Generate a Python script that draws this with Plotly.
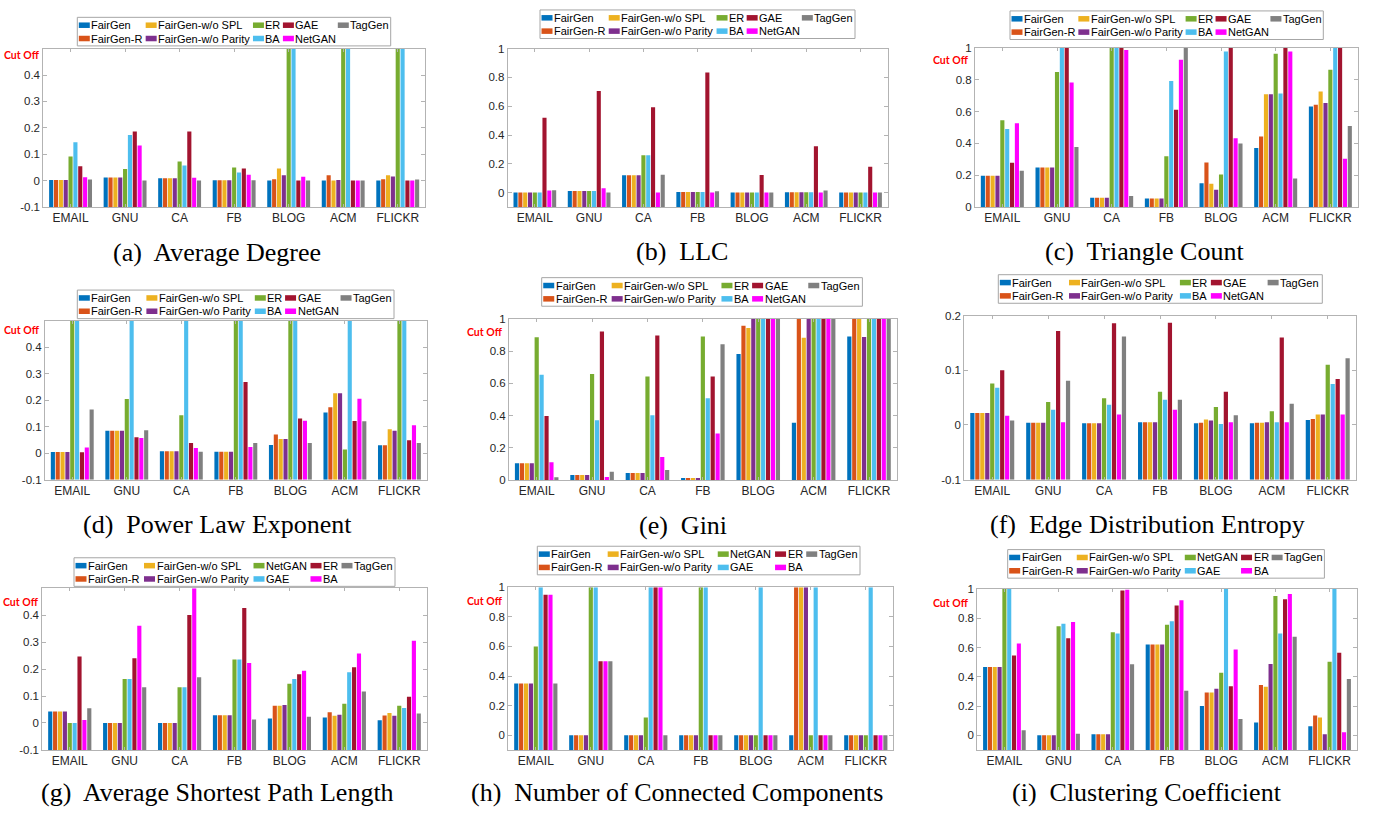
import plotly.graph_objects as go

# ---------------- data ----------------
CATEGORIES = ["EMAIL", "GNU", "CA", "FB", "BLOG", "ACM", "FLICKR"]

SERIES_A = ["FairGen", "FairGen-R", "FairGen-w/o SPL", "FairGen-w/o Parity",
            "ER", "BA", "GAE", "NetGAN", "TagGen"]
SERIES_B = ["FairGen", "FairGen-R", "FairGen-w/o SPL", "FairGen-w/o Parity",
            "NetGAN", "GAE", "ER", "BA", "TagGen"]
COLORS = ["#0072BD", "#D95319", "#EDB120", "#7E2F8E", "#77AC30",
          "#4DBEEE", "#A2142F", "#FF00FF", "#808080"]

# rows follow the series order, columns follow CATEGORIES
AVG_DEGREE = [
    [0.002, 0.012, 0.009, 0.001, 0.000, 0.000, 0.000],
    [0.002, 0.012, 0.009, 0.001, 0.005, 0.020, 0.005],
    [0.002, 0.012, 0.009, 0.001, 0.046, 0.000, 0.020],
    [0.002, 0.012, 0.009, 0.001, 0.020, 0.002, 0.016],
    [0.091, 0.044, 0.072, 0.050, 0.500, 0.500, 0.500],
    [0.145, 0.173, 0.057, 0.031, 0.500, 0.500, 0.500],
    [0.054, 0.186, 0.186, 0.046, 0.000, 0.000, 0.000],
    [0.013, 0.133, 0.011, 0.022, 0.015, 0.000, 0.000],
    [0.004, 0.000, 0.000, 0.001, 0.000, 0.000, 0.004],
]
LLC = [
    [0.000, 0.011, 0.120, 0.005, 0.000, 0.002, 0.000],
    [0.000, 0.011, 0.120, 0.005, 0.000, 0.002, 0.000],
    [0.000, 0.011, 0.120, 0.005, 0.000, 0.002, 0.000],
    [0.000, 0.011, 0.120, 0.005, 0.000, 0.002, 0.000],
    [0.000, 0.011, 0.260, 0.005, 0.000, 0.002, 0.000],
    [0.000, 0.011, 0.260, 0.005, 0.000, 0.002, 0.000],
    [0.520, 0.706, 0.593, 0.834, 0.122, 0.322, 0.179],
    [0.014, 0.030, 0.000, 0.000, 0.000, 0.000, 0.000],
    [0.016, 0.000, 0.124, 0.010, 0.000, 0.014, 0.000],
]
TRIANGLE_COUNT = [
    [0.197, 0.249, 0.058, 0.054, 0.149, 0.371, 0.633],
    [0.197, 0.249, 0.058, 0.054, 0.280, 0.444, 0.643],
    [0.197, 0.249, 0.058, 0.054, 0.147, 0.710, 0.726],
    [0.197, 0.249, 0.058, 0.054, 0.108, 0.710, 0.654],
    [0.546, 0.849, 1.000, 0.320, 0.205, 0.965, 0.863],
    [0.490, 1.000, 1.000, 0.793, 0.979, 0.714, 1.000],
    [0.278, 1.000, 1.000, 0.612, 1.000, 1.000, 1.000],
    [0.527, 0.784, 0.988, 0.927, 0.432, 0.979, 0.303],
    [0.228, 0.378, 0.070, 1.000, 0.400, 0.180, 0.510],
]
POWER_LAW = [
    [0.004, 0.084, 0.007, 0.005, 0.031, 0.153, 0.030],
    [0.004, 0.084, 0.007, 0.005, 0.070, 0.173, 0.030],
    [0.004, 0.084, 0.007, 0.005, 0.053, 0.226, 0.090],
    [0.004, 0.084, 0.007, 0.005, 0.053, 0.226, 0.084],
    [0.500, 0.204, 0.143, 0.500, 0.500, 0.014, 0.500],
    [0.500, 0.500, 0.500, 0.500, 0.500, 0.500, 0.500],
    [0.003, 0.060, 0.038, 0.268, 0.131, 0.121, 0.049],
    [0.021, 0.057, 0.019, 0.023, 0.122, 0.205, 0.105],
    [0.165, 0.086, 0.005, 0.038, 0.038, 0.120, 0.038],
]
GINI = [
    [0.104, 0.030, 0.043, 0.012, 0.782, 0.355, 0.892],
    [0.104, 0.030, 0.043, 0.012, 0.959, 1.000, 1.000],
    [0.104, 0.030, 0.043, 0.012, 0.945, 0.884, 1.000],
    [0.104, 0.030, 0.043, 0.012, 1.000, 1.000, 0.888],
    [0.886, 0.659, 0.643, 0.892, 1.000, 1.000, 1.000],
    [0.653, 0.371, 0.402, 0.508, 1.000, 1.000, 1.000],
    [0.398, 0.922, 0.898, 0.643, 1.000, 1.000, 1.000],
    [0.110, 0.018, 0.143, 0.288, 1.000, 1.000, 1.000],
    [0.016, 0.051, 0.061, 0.843, 1.000, 1.000, 1.000],
]
EDGE_ENTROPY = [
    [0.022, 0.004, 0.003, 0.005, 0.003, 0.003, 0.009],
    [0.022, 0.004, 0.003, 0.005, 0.004, 0.004, 0.011],
    [0.022, 0.004, 0.003, 0.005, 0.010, 0.004, 0.019],
    [0.022, 0.004, 0.003, 0.005, 0.008, 0.005, 0.019],
    [0.076, 0.042, 0.049, 0.061, 0.033, 0.025, 0.110],
    [0.068, 0.028, 0.037, 0.046, 0.002, 0.005, 0.075],
    [0.100, 0.172, 0.186, 0.187, 0.061, 0.160, 0.084],
    [0.017, 0.005, 0.019, 0.028, 0.005, 0.005, 0.019],
    [0.008, 0.081, 0.162, 0.046, 0.018, 0.039, 0.122],
]
AVG_SHORTEST_PATH = [
    [0.043, 0.000, 0.000, 0.029, 0.017, 0.020, 0.010],
    [0.043, 0.000, 0.000, 0.029, 0.064, 0.040, 0.028],
    [0.043, 0.000, 0.000, 0.029, 0.064, 0.027, 0.037],
    [0.043, 0.000, 0.000, 0.029, 0.067, 0.031, 0.027],
    [0.000, 0.163, 0.133, 0.236, 0.146, 0.071, 0.064],
    [0.000, 0.163, 0.133, 0.236, 0.163, 0.188, 0.056],
    [0.247, 0.240, 0.401, 0.427, 0.181, 0.207, 0.097],
    [0.011, 0.361, 0.500, 0.223, 0.194, 0.258, 0.305],
    [0.055, 0.133, 0.170, 0.013, 0.023, 0.117, 0.035],
]
CONNECTED_COMPONENTS = [
    [0.35, 0.00, 0.00, 0.00, 0.00, 0.00, 0.00],
    [0.35, 0.00, 0.00, 0.00, 0.00, 1.00, 0.00],
    [0.35, 0.00, 0.00, 0.00, 0.00, 1.00, 0.00],
    [0.35, 0.00, 0.00, 0.00, 0.00, 1.00, 0.00],
    [0.60, 1.00, 0.12, 1.00, 0.00, 0.00, 0.00],
    [1.00, 1.00, 1.00, 1.00, 1.00, 1.00, 1.00],
    [0.95, 0.50, 1.00, 0.00, 0.00, 0.00, 0.00],
    [0.95, 0.50, 1.00, 0.00, 0.00, 0.00, 0.00],
    [0.35, 0.50, 0.00, 0.00, 0.00, 0.00, 0.00],
]
CLUSTERING = [
    [0.467, 0.000, 0.007, 0.621, 0.201, 0.088, 0.061],
    [0.467, 0.000, 0.007, 0.621, 0.293, 0.343, 0.135],
    [0.467, 0.000, 0.007, 0.621, 0.293, 0.332, 0.122],
    [0.467, 0.000, 0.007, 0.621, 0.318, 0.488, 0.007],
    [1.000, 0.745, 0.704, 0.756, 0.427, 0.953, 0.503],
    [1.000, 0.763, 0.695, 0.779, 1.000, 0.695, 1.000],
    [0.546, 0.664, 0.989, 0.887, 0.336, 0.930, 0.564],
    [0.628, 0.774, 0.995, 0.923, 0.587, 0.966, 0.020],
    [0.034, 0.011, 0.485, 0.305, 0.111, 0.673, 0.384],
]

TICKS_HALF = [-0.1, 0, 0.1, 0.2, 0.3, 0.4]
TICKS_UNIT = [0, 0.2, 0.4, 0.6, 0.8, 1]
TICKS_ENT = [-0.1, 0, 0.1, 0.2]

# ---------------- layout configuration (pixels) ----------------
W, H = 1375, 817
LEG_A = dict(cols=[1.5, 68.5, 176, 206, 261], width=314.0)
LEG_B = dict(cols=[1.5, 70, 179.5, 236.5, 267.5], width=321.0)
ROWS = [8.0, 21.5]
LEG_H = 29.0

PANELS = [
    dict(data=AVG_DEGREE, names=SERIES_A, yr=(-0.1, 0.5), ticks=TICKS_HALF,
         box=(43.3, 43.3, 425, 204), leg=(77.3, 11.5, 313.4, LEG_A), cut=(22, 50),
         cap="(a)  Average Degree", capxy=(217, 250)),
    dict(data=LLC, names=SERIES_A, yr=(-0.1, 1), ticks=TICKS_UNIT,
         box=(507.7, 43.3, 887.7, 204), leg=(540, 4, 315, LEG_A), cut=None,
         cap="(b)  LLC", capxy=(682, 249)),
    dict(data=TRIANGLE_COUNT, names=SERIES_A, yr=(0, 1), ticks=TICKS_UNIT,
         box=(975, 42.7, 1357.7, 204), leg=(1010, 5, 313.3, LEG_A), cut=(951, 55),
         cap="(c)  Triangle Count", capxy=(1144, 249)),
    dict(data=POWER_LAW, names=SERIES_A, yr=(-0.1, 0.5), ticks=TICKS_HALF,
         box=(45, 319.3, 426.7, 480.7), leg=(77.3, 288.3, 316.7, LEG_A), cut=(22, 329),
         cap="(d)  Power Law Exponent", capxy=(217, 526)),
    dict(data=GINI, names=SERIES_A, yr=(0, 1), ticks=TICKS_UNIT,
         box=(509, 317.7, 896.7, 481), leg=(541.7, 275.7, 320.7, LEG_A), cut=(485, 331),
         cap="(e)  Gini", capxy=(683, 527)),
    dict(data=EDGE_ENTROPY, names=SERIES_A, yr=(-0.1, 0.2), ticks=TICKS_ENT,
         box=(964.3, 314.3, 1355.7, 480.7), leg=(998.3, 272.7, 324, LEG_A), cut=None,
         cap="(f)  Edge Distribution Entropy", capxy=(1147, 526)),
    dict(data=AVG_SHORTEST_PATH, names=SERIES_B, yr=(-0.1, 0.5), ticks=TICKS_HALF,
         box=(42.3, 591, 426.7, 755), leg=(74, 560, 321, LEG_B), cut=(21, 605),
         cap="(g)  Average Shortest Path Length", capxy=(217, 798)),
    dict(data=CONNECTED_COMPONENTS, names=SERIES_B, yr=(-0.1, 1), ticks=TICKS_UNIT,
         box=(508.3, 590, 893.3, 755), leg=(537.3, 548.3, 322.7, LEG_B), cut=(485, 604),
         cap="(h)  Number of Connected Components", capxy=(677, 798)),
    dict(data=CLUSTERING, names=SERIES_B, yr=(-0.1, 1), ticks=TICKS_UNIT,
         box=(977.3, 591.7, 1356.7, 755), leg=(1007.7, 551.7, 316.7, LEG_B), cut=(951, 606),
         cap="(i)  Clustering Coefficient", capxy=(1147, 798)),
]

SANS = "Liberation Sans, Arial, sans-serif"
SERIF = "Liberation Serif, Times New Roman, serif"
AXIS_GRAY = "#B3B3B3"
TICK_TXT = "#262626"


def px_x(v):
    return v / W


def px_y(v):
    return 1 - v / H


def fmt(v):
    return "%g" % v


fig = go.Figure()
layout = dict(
    width=W, height=H,
    margin=dict(l=0, r=0, t=0, b=0),
    paper_bgcolor="white", plot_bgcolor="white",
    barmode="group", bargap=0.2, bargroupgap=0.15,
    showlegend=False,
)
shapes = []
annotations = []

for k, p in enumerate(PANELS):
    n = k + 1
    xname = "x" if n == 1 else "x%d" % n
    yname = "y" if n == 1 else "y%d" % n
    ymin, ymax = p["yr"]
    for s, (name, vals) in enumerate(zip(p["names"], p["data"])):
        fig.add_trace(go.Bar(
            x=CATEGORIES,
            y=[v - ymin for v in vals],
            base=ymin,
            name=name,
            marker=dict(color=COLORS[s], line=dict(width=0)),
            xaxis=xname, yaxis=yname,
            showlegend=False,
            customdata=vals,
            hovertemplate=name + ": %{customdata}<extra></extra>",
        ))
    l, t, r, b = p["box"]
    layout["xaxis" if n == 1 else "xaxis%d" % n] = dict(
        domain=[px_x(l), px_x(r)], anchor=yname, type="category",
        showline=True, mirror="ticks", linecolor=AXIS_GRAY, linewidth=1,
        ticks="inside", ticklen=3, tickcolor=AXIS_GRAY, tickwidth=1,
        tickfont=dict(family=SANS, size=12, color=TICK_TXT),
        showgrid=False, zeroline=False, fixedrange=True,
    )
    layout["yaxis" if n == 1 else "yaxis%d" % n] = dict(
        domain=[px_y(b), px_y(t)], anchor=xname, range=[ymin, ymax],
        showline=True, mirror="ticks", linecolor=AXIS_GRAY, linewidth=1,
        ticks="inside", ticklen=4, tickcolor=AXIS_GRAY, tickwidth=1,
        tickvals=p["ticks"], ticktext=[fmt(v) for v in p["ticks"]],
        tickfont=dict(family=SANS, size=11.5, color=TICK_TXT),
        showgrid=False, zeroline=False, fixedrange=True,
    )

    # legend box (MATLAB-style, 5 columns x 2 rows, column-major)
    bl, bt, bw, spec = p["leg"]
    sc = bw / spec["width"]
    bh = LEG_H
    shapes.append(dict(type="rect", xref="paper", yref="paper",
                       x0=px_x(bl), x1=px_x(bl + bw), y0=px_y(bt + bh), y1=px_y(bt),
                       line=dict(color="#A6A6A6", width=1), fillcolor="white",
                       layer="above"))
    for i, name in enumerate(p["names"]):
        col, row = i // 2, i % 2
        x0 = bl + spec["cols"][col] * sc
        yc = bt + ROWS[row]
        shapes.append(dict(type="rect", xref="paper", yref="paper",
                           x0=px_x(x0), x1=px_x(x0 + 11), y0=px_y(yc + 2.8), y1=px_y(yc - 2.8),
                           line=dict(width=0), fillcolor=COLORS[i], layer="above"))
        annotations.append(dict(xref="paper", yref="paper", x=px_x(x0 + 11.5), y=px_y(yc),
                                xanchor="left", yanchor="middle", text=name,
                                showarrow=False, borderpad=0,
                                font=dict(family=SANS, size=11, color="#000000")))

    if p["cut"] is not None:
        cx, cy = p["cut"]
        annotations.append(dict(xref="paper", yref="paper", x=px_x(cx), y=px_y(cy),
                                xanchor="center", yanchor="middle", text="<b>Cut Off</b>",
                                showarrow=False, borderpad=0,
                                font=dict(family="Lato, Carlito, sans-serif", size=10.5,
                                          color="#FF0000")))
    cx, cy = p["capxy"]
    annotations.append(dict(xref="paper", yref="paper", x=px_x(cx), y=px_y(cy),
                            xanchor="center", yanchor="middle", text=p["cap"],
                            showarrow=False,
                            font=dict(family=SERIF, size=26, color="#000000")))

layout["shapes"] = shapes
layout["annotations"] = annotations
fig.update_layout(**layout)
# remove the browser's default 8px body margin so the figure sits at the page origin
fig.write_html("out.html",
               config={"displayModeBar": False},
               post_script="document.body.style.margin='0';document.body.style.overflow='hidden';")
